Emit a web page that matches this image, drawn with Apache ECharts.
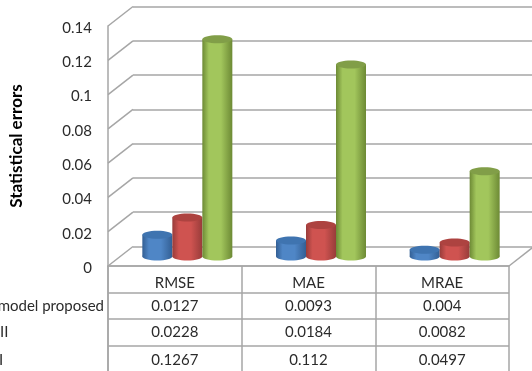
<!DOCTYPE html>
<html><head><meta charset="utf-8">
<style>html,body{margin:0;padding:0;background:#fff}#c{width:532px;height:371px}</style>
<script src="https://cdn.jsdelivr.net/npm/echarts@6/dist/echarts.min.js"></script>
</head><body><div id="c"></div>
<script>
const categories = ['RMSE', 'MAE', 'MRAE'];
const rowLabels = ['model proposed', 'II', 'I'];
const proposed = [0.0127, 0.0093, 0.004];
const modelII = [0.0228, 0.0184, 0.0082];
const modelI = [0.1267, 0.112, 0.0497];
const proposedText = ['0.0127', '0.0093', '0.004'];
const modelIIText = ['0.0228', '0.0184', '0.0082'];
const modelIText = ['0.1267', '0.112', '0.0497'];
const ticks = [0, 0.02, 0.04, 0.06, 0.08, 0.1, 0.12, 0.14];

const FONT = 'Lato, "Open Sans", sans-serif';
const GRID = '#a6a6a6';
const INK = '#2b2b2b';
const SIZE = 15;
const DX = 25, DY = -19.5;
const chart = echarts.init(document.getElementById('c'), null, {renderer: 'canvas'});

function cylinder(slot, side, mid, top) {
  return function (params, api) {
    const v = api.value(1);
    const p0 = api.coord([api.value(0), 0]);
    const p1 = api.coord([api.value(0), v]);
    const w = 30, rx = w / 2, ry = 4;
    const cx = p0[0] + 12.5 + slot * w;
    const yb = p0[1] - 9.5, yt = p1[1] - 9.5;
    const fill = new echarts.graphic.LinearGradient(0, 0, 1, 0, [
      {offset: 0, color: side}, {offset: 0.22, color: mid},
      {offset: 0.62, color: mid}, {offset: 1, color: side}]);
    return {type: 'group', children: [
      {type: 'ellipse', shape: {cx, cy: yb, rx, ry}, style: {fill}},
      {type: 'rect', shape: {x: cx - rx, y: yt, width: w, height: yb - yt}, style: {fill}},
      {type: 'ellipse', shape: {cx, cy: yt, rx, ry}, style: {fill: top}}
    ]};
  };
}

function cellText(x, y, text, align) {
  return {type: 'text', style: {x, y, text, font: SIZE + 'px ' + FONT, fill: INK,
    align: align || 'center', verticalAlign: 'middle'}};
}

function tableCells(texts, row, nudge) {
  return {
    type: 'custom', xAxisIndex: 1, yAxisIndex: 1, silent: true, z: 5,
    data: texts.map((t, i) => [i, row]),
    encode: {x: 0, y: 1},
    renderItem(params, api) {
      const p = api.coord([api.value(0), api.value(1)]);
      return cellText(p[0], p[1] + nudge, texts[params.dataIndex]);
    }
  };
}

chart.setOption({
  animation: false,
  grid: [
    {left: 108, top: 26, width: 401, height: 240, outerBoundsMode: 'none'},
    {left: 108, top: 266, width: 401, height: 106, outerBoundsMode: 'none'},
    {left: 133, top: 6.5, width: 400, height: 240, outerBoundsMode: 'none'},
    {left: 108, top: 28, width: 401, height: 240, outerBoundsMode: 'none'}
  ],
  xAxis: [
    {gridIndex: 0, type: 'category', data: categories, axisLine: {show: false}, axisTick: {show: false}, axisLabel: {show: false}},
    {gridIndex: 1, type: 'category', data: categories, position: 'top', axisLine: {show: true, lineStyle: {color: GRID, width: 1.5}},
      axisTick: {show: false}, axisLabel: {show: false},
      splitLine: {show: true, lineStyle: {color: GRID, width: 1.5}}},
    {gridIndex: 2, type: 'value', min: 0, max: 1, show: false},
    {gridIndex: 3, type: 'value', min: 0, max: 1, show: false}
  ],
  yAxis: [
    {gridIndex: 0, type: 'value', min: 0, max: 0.14, interval: 0.02,
      axisLine: {show: true, lineStyle: {color: GRID, width: 1.5}}, axisTick: {show: false},
      splitLine: {show: false}, axisLabel: {show: false},
      name: 'Statistical errors', nameLocation: 'middle', nameGap: 83, nameRotate: 90,
      nameTextStyle: {fontFamily: FONT, fontSize: 17, fontWeight: 'bold', color: '#000'}},
    {gridIndex: 1, type: 'category', inverse: true, data: ['header'].concat(rowLabels),
      axisLine: {show: true, lineStyle: {color: GRID, width: 1.5}}, axisTick: {show: false},
      axisLabel: {show: false},
      splitLine: {show: true, lineStyle: {color: GRID, width: 1.5}}},
    {gridIndex: 2, type: 'value', min: 0, max: 0.14, interval: 0.02, position: 'left',
      axisLine: {show: false}, axisTick: {show: false}, axisLabel: {show: false},
      splitLine: {show: true, lineStyle: {color: GRID, width: 1.5}}},
    {gridIndex: 3, type: 'value', min: 0, max: 0.14, interval: 0.02, position: 'left',
      axisLine: {show: false}, axisTick: {show: false}, splitLine: {show: false},
      axisLabel: {margin: 16, color: INK, fontFamily: FONT, fontSize: SIZE}}
  ],
  series: [
    {type: 'custom', xAxisIndex: 0, yAxisIndex: 0, silent: true, z: 1,
      data: ticks.map(t => [0, t]), encode: {x: 0, y: 1},
      renderItem(params, api) {
        const p = api.coord([0, api.value(1)]);
        const x = params.coordSys.x;
        return {type: 'line', shape: {x1: x, y1: p[1], x2: x + DX, y2: p[1] + DY},
          style: {stroke: GRID, lineWidth: 1.5}};
      }},
    {type: 'custom', xAxisIndex: 0, yAxisIndex: 0, silent: true, z: 1,
      data: [[2, 0]], encode: {x: 0, y: 1},
      renderItem(params, api) {
        const y = api.coord([0, 0])[1];
        const x = params.coordSys.x + params.coordSys.width;
        return {type: 'line', shape: {x1: x, y1: y, x2: x + DX, y2: y + DY},
          style: {stroke: GRID, lineWidth: 1.5}};
      }},
    {type: 'custom', name: 'model proposed', xAxisIndex: 0, yAxisIndex: 0, z: 3, silent: true,
      data: proposed.map((v, i) => [i, v]), encode: {x: 0, y: 1},
      renderItem: cylinder(-1, '#335f94', '#4f86c6', '#3f74b0')},
    {type: 'custom', name: 'II', xAxisIndex: 0, yAxisIndex: 0, z: 3, silent: true,
      data: modelII.map((v, i) => [i, v]), encode: {x: 0, y: 1},
      renderItem: cylinder(0, '#983c3a', '#cf5350', '#ad4340')},
    {type: 'custom', name: 'I', xAxisIndex: 0, yAxisIndex: 0, z: 3, silent: true,
      data: modelI.map((v, i) => [i, v]), encode: {x: 0, y: 1},
      renderItem: cylinder(1, '#6d8a35', '#a2c65c', '#819e48')},
    {type: 'custom', xAxisIndex: 1, yAxisIndex: 1, silent: true, z: 5,
      data: categories.map((c, i) => [i, 0]), encode: {x: 0, y: 1},
      renderItem(params, api) {
        const p = api.coord([api.value(0), api.value(1)]);
        return cellText(p[0], p[1] + 4, categories[params.dataIndex]);
      }},
    tableCells(proposedText, 1, 0), tableCells(modelIIText, 2, 0), tableCells(modelIText, 3, 1),
    {type: 'custom', xAxisIndex: 1, yAxisIndex: 1, silent: true, z: 5,
      data: rowLabels.map((r, i) => [0, i + 1]), encode: {x: 0, y: 1},
      renderItem(params, api) {
        const p = api.coord([0, api.value(1)]);
        const text = rowLabels[params.dataIndex];
        const i = params.dataIndex;
        const nudge = i === 2 ? 1 : 0;
        return i === 0
          ? cellText(params.coordSys.x - 4, p[1] + nudge, text, 'right')
          : cellText(i === 1 ? 0 : -1, p[1] + nudge, text, 'left');
      }}
  ]
});
</script></body></html>
